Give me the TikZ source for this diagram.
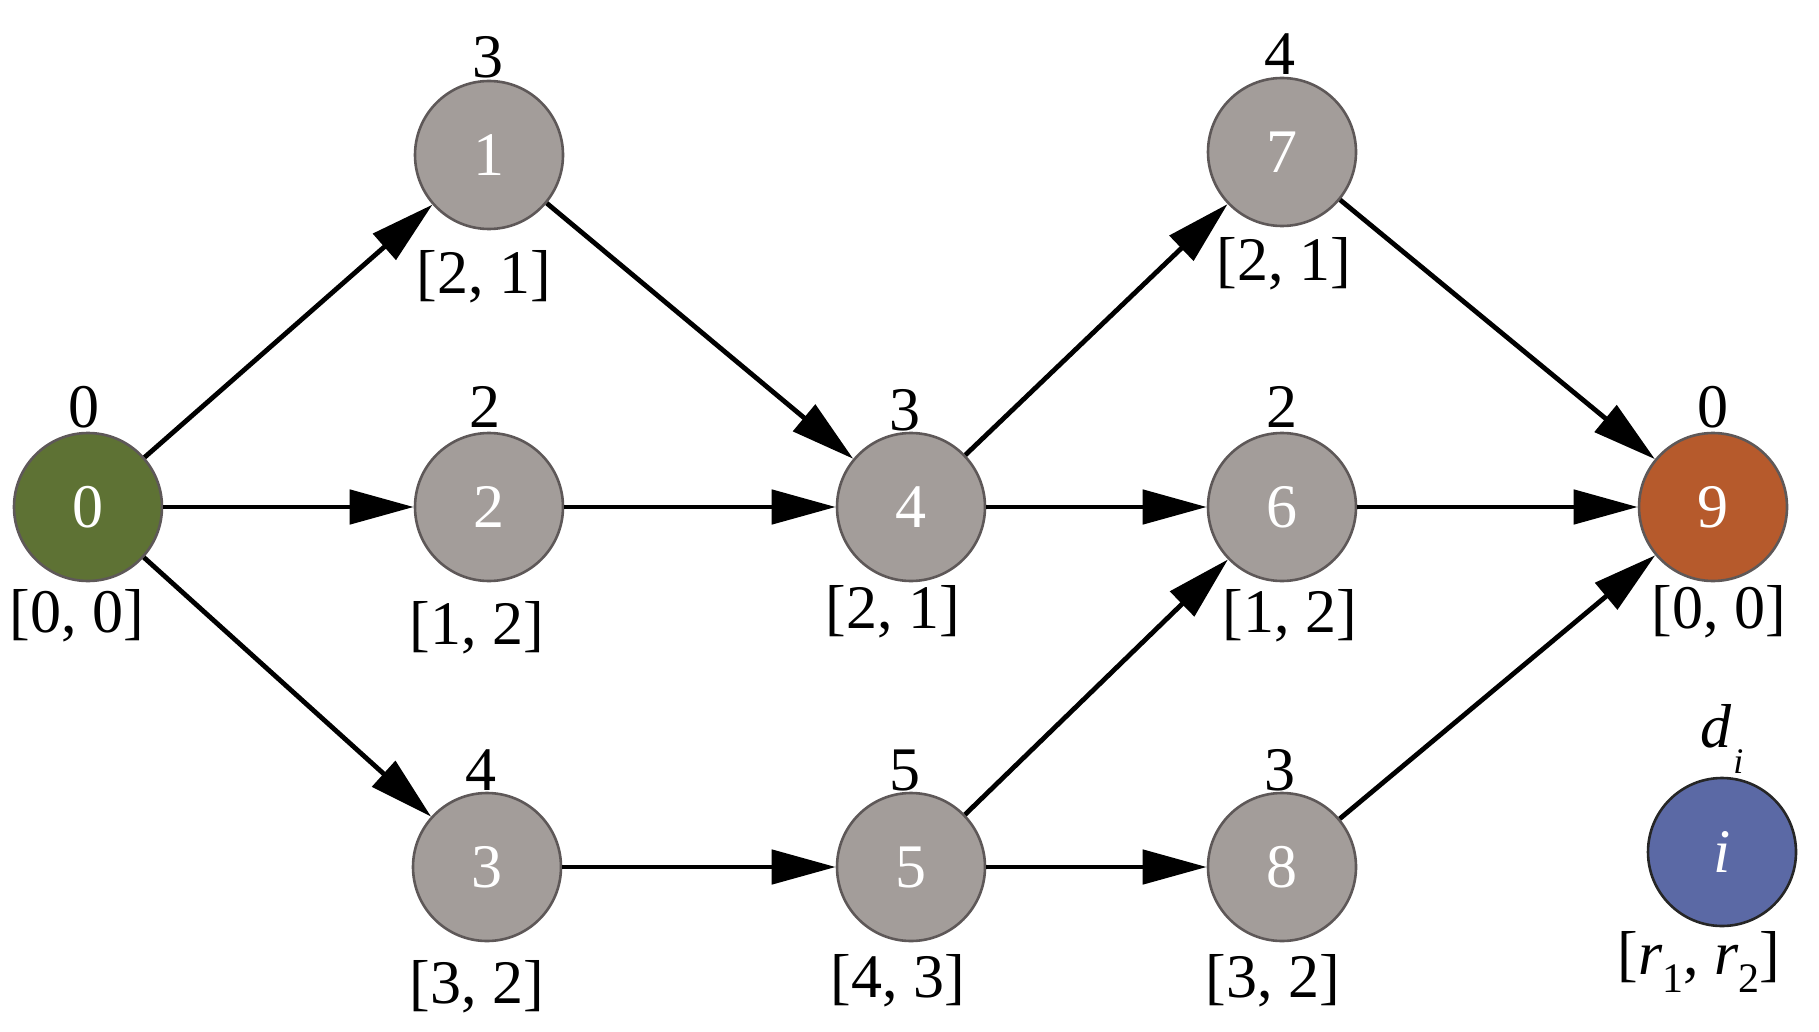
\documentclass[tikz,border=0pt]{standalone}
\usepackage{fontspec}
\setmainfont{Liberation Serif}
\usetikzlibrary{arrows.meta}
\definecolor{ngray}{HTML}{A39D9A}
\definecolor{nborder}{HTML}{5E5858}
\definecolor{ngreen}{HTML}{5E7234}
\definecolor{norange}{HTML}{B65A2C}
\definecolor{nblue}{HTML}{5B69A5}
\begin{document}
\begin{tikzpicture}[x=0.5pt,y=-0.5pt,
  font=\fontsize{31}{34}\selectfont,
  vert/.style={circle, minimum size=74pt, inner sep=0pt, draw=nborder, line width=1.3pt, fill=ngray, text=white},
  edge/.style={line width=2.4pt, -{Triangle[length=32pt,width=17pt]}},
  lbl/.style={inner sep=0pt, anchor=base}]
\useasboundingbox (0,0) rectangle (1819,1032);
% vertices
\node[vert, fill=ngreen] (n0) at (88,507) {0};
\node[vert] (n1) at (489,155) {1};
\node[vert] (n2) at (489,507) {2};
\node[vert] (n3) at (487,867) {3};
\node[vert] (n4) at (911,507) {4};
\node[vert] (n5) at (911,867) {5};
\node[vert] (n6) at (1282,507) {6};
\node[vert] (n7) at (1282,152) {7};
\node[vert] (n8) at (1282,867) {8};
\node[vert, fill=norange] (n9) at (1713,507) {9};
\node[vert, fill=nblue, draw=black!85] (ni) at (1722,852) {\itshape i};
% top labels
\node[lbl] (t0) at (84,427) {0};
\node[lbl] (t1) at (488,78) {3};
\node[lbl] (t2) at (485,427) {2};
\node[lbl] (t3) at (481,790) {4};
\node[lbl] (t4) at (905,430) {3};
\node[lbl] (t5) at (905,790) {5};
\node[lbl] (t6) at (1282,427) {2};
\node[lbl] (t7) at (1280,75) {4};
\node[lbl] (t8) at (1280,790) {3};
\node[lbl] (t9) at (1713,427) {0};
\node[lbl] (ti) at (1722,747) {\itshape d\raisebox{-0.42em}{\fontsize{18}{18}\selectfont\kern0.05em i}};
% bottom labels
\node[lbl] (b0) at (77,632) {[0, 0]};
\node[lbl] (b1) at (484,293) {[2, 1]};
\node[lbl] (b2) at (477,644) {[1, 2]};
\node[lbl] (b3) at (477,1003) {[3, 2]};
\node[lbl] (b4) at (893,628) {[2, 1]};
\node[lbl] (b5) at (898,997) {[4, 3]};
\node[lbl] (b6) at (1290,632) {[1, 2]};
\node[lbl] (b7) at (1284,280) {[2, 1]};
\node[lbl] (b8) at (1273,997) {[3, 2]};
\node[lbl] (b9) at (1719,628) {[0, 0]};
\node[lbl] (bi) at (1699,974) {[\textit{r}\raisebox{-0.3em}{\fontsize{21}{21}\selectfont 1}, \textit{r}\raisebox{-0.3em}{\fontsize{21}{21}\selectfont 2}]};
% edges
\draw[edge] (n0) -- (n1);
\draw[edge] (n0) -- (n2);
\draw[edge] (n0) -- (n3);
\draw[edge] (n1) -- (n4);
\draw[edge] (n2) -- (n4);
\draw[edge] (n4) -- (n7);
\draw[edge] (n4) -- (n6);
\draw[edge] (n3) -- (n5);
\draw[edge] (n5) -- (n6);
\draw[edge] (n5) -- (n8);
\draw[edge] (n7) -- (n9);
\draw[edge] (n6) -- (n9);
\draw[edge] (n8) -- (n9);
\end{tikzpicture}
\end{document}
